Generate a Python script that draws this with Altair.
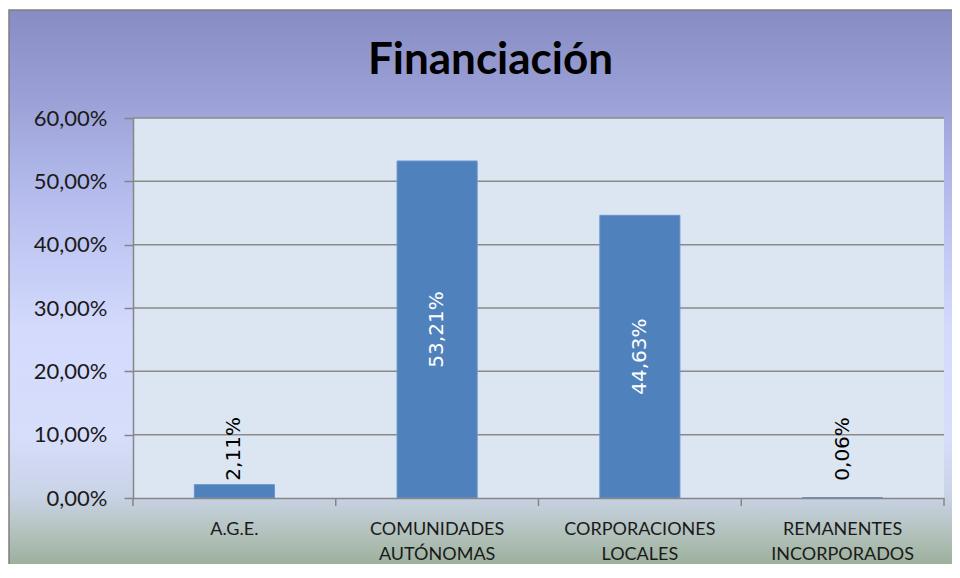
import altair as alt
import pandas as pd

categories = ["A.G.E.", "COMUNIDADES AUTÓNOMAS", "CORPORACIONES LOCALES", "REMANENTES INCORPORADOS"]
shares = [0.0211, 0.5321, 0.4463, 0.0006]
y_ticks = [0.0, 0.1, 0.2, 0.3, 0.4, 0.5, 0.6]

W, H = 811, 380
PAD = {"left": 125, "top": 110, "right": 8, "bottom": 66}

df = pd.DataFrame({"cat": categories, "share": shares})
grid_df = pd.DataFrame({"share": y_ticks[1:]})
dummy = alt.Data(values=[{}])

y_scale = alt.Scale(domain=[0, 0.6], nice=False)
x_scale = alt.Scale(paddingInner=0, paddingOuter=0)

y_axis = alt.Axis(
    values=y_ticks,
    labelExpr="replace(format(datum.value, '.2%'), '.', ',')",
    grid=False,
    domainColor="#868686",
    domainWidth=1.5,
    tickColor="#868686",
    tickWidth=1.5,
    tickSize=9,
    labelFont="Lato",
    labelFontSize=22,
    labelColor="#1a1a1a",
    labelPadding=17,
    title=None,
    zindex=1,
)
x_axis = alt.Axis(
    labelExpr="split(datum.label, ' ')",
    ticks=False,
    domainColor="#868686",
    domainWidth=1.5,
    labelFont="Lato",
    labelFontSize=18,
    labelLineHeight=25,
    labelColor="#1a1a1a",
    labelAngle=0,
    labelPadding=22,
    title=None,
    zindex=1,
)

gradient = alt.Gradient(
    gradient="linear", x1=0, x2=0, y1=0, y2=1,
    stops=[
        alt.GradientStop(color="#878cc2", offset=0),
        alt.GradientStop(color="#9ba1d6", offset=0.16),
        alt.GradientStop(color="#b6bdee", offset=0.34),
        alt.GradientStop(color="#d3dafc", offset=0.57),
        alt.GradientStop(color="#d7defb", offset=0.76),
        alt.GradientStop(color="#c9d3e6", offset=0.87),
        alt.GradientStop(color="#b2c1bb", offset=0.94),
        alt.GradientStop(color="#9aae99", offset=1),
    ],
)

X = alt.X("cat:N", sort=categories, scale=x_scale, axis=x_axis)

bg = alt.Chart(dummy).mark_rect(fill=gradient, stroke="#7f7f7f", strokeWidth=1.5).encode(
    x=alt.value(-124), x2=alt.value(W + 10), y=alt.value(-108), y2=alt.value(H + 70)
)
plot_bg = alt.Chart(dummy).mark_rect(fill="#dce6f2").encode(
    x=alt.value(0), x2=alt.value("width"), y=alt.value(0), y2=alt.value("height")
)
grid = alt.Chart(grid_df).mark_rule(color="#8a8a8a", strokeWidth=1.5).encode(
    y=alt.Y("share:Q", scale=y_scale, axis=y_axis)
)
xticks_left = alt.Chart(df).mark_rule(color="#868686", strokeWidth=1.5).encode(
    x=alt.X("cat:N", sort=categories, scale=x_scale, bandPosition=0, axis=x_axis),
    y=alt.value("height"), y2=alt.value(H + 8),
)
xticks_right = alt.Chart(df).transform_filter(
    alt.datum.cat == categories[-1]
).mark_rule(color="#868686", strokeWidth=1.5).encode(
    x=alt.X("cat:N", sort=categories, scale=x_scale, bandPosition=1, axis=x_axis),
    y=alt.value("height"), y2=alt.value(H + 8),
)
bars = alt.Chart(df).mark_bar(
    color="#4f81bd", stroke="#6a93c8", strokeWidth=1, width=alt.RelativeBandSize(0.395)
).encode(
    x=X,
    y=alt.Y("share:Q", scale=y_scale, axis=y_axis),
)
txt_expr = "replace(format(datum.share, '.2%'), '.', ',')"
inside = alt.Chart(df).transform_filter("datum.share > 0.1").transform_calculate(
    mid="datum.share / 2", txt=txt_expr
).mark_text(angle=270, color="white", font="DejaVu Sans", fontSize=20, align="center", baseline="middle").encode(
    x=X,
    y=alt.Y("mid:Q", scale=y_scale, axis=y_axis),
    text="txt:N",
)
outside = alt.Chart(df).transform_filter("datum.share <= 0.1").transform_calculate(
    pos="max(datum.share, 0.021)", txt=txt_expr
).mark_text(angle=270, color="black", font="DejaVu Sans", fontSize=20, align="left", baseline="middle", dx=4).encode(
    x=X,
    y=alt.Y("pos:Q", scale=y_scale, axis=y_axis),
    text="txt:N",
)

chart = alt.layer(bg, plot_bg, grid, xticks_left, xticks_right, bars, inside, outside).properties(
    width=W,
    height=H,
    padding=PAD,
    autosize=alt.AutoSizeParams(type="none"),
    title=alt.TitleParams(
        "Financiación", font="Lato", fontSize=44, fontWeight="bold", color="black",
        anchor="middle", frame="group", dx=-48, offset=0, dy=109, baseline="alphabetic",
    ),
).configure_view(strokeWidth=0)

chart.save("out.html", embed_options={"renderer": "svg", "actions": False})
